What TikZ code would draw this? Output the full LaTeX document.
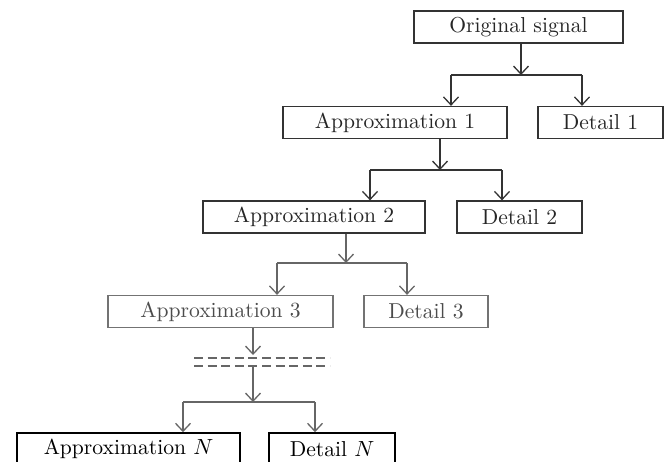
\documentclass[tikz,border=0pt]{standalone}
\usetikzlibrary{arrows.meta}
\begin{document}
\begin{tikzpicture}[x=0.5pt, y=-0.5pt,
  box/.style={draw=black!80, line width=0.65pt, minimum height=16pt, inner sep=0pt,
    text=black!85, font=\fontsize{10.8}{12}\selectfont},
  lightbox/.style={box, draw=black!55, text=black!70},
  darkbox/.style={box, draw=black, line width=0.8pt, text=black},
  link/.style={draw=black!80, line width=0.65pt},
  lightlink/.style={link, draw=black!60},
  arr/.style={-{Straight Barb[length=4pt,width=7.5pt]}}]
  \useasboundingbox (0,0) rectangle (667,461);

  % Boxes
  \node[box, minimum width=104.5pt] (orig) at (518.5,27) {Original signal};
  \node[box, minimum width=112pt] (a1) at (395,122.5) {Approximation 1};
  \node[box, minimum width=62.5pt] (d1) at (600.5,122.5) {Detail 1};
  \node[box, minimum width=111pt] (a2) at (314,217) {Approximation 2};
  \node[box, minimum width=62.5pt] (d2) at (519.5,217) {Detail 2};
  \node[lightbox, minimum width=112.5pt] (a3) at (220.5,311.5) {Approximation 3};
  \node[lightbox, minimum width=62pt] (d3) at (426,311.5) {Detail 3};
  \node[darkbox, minimum width=111.5pt] (an) at (128.5,449) {Approximation $N$};
  \node[darkbox, minimum width=63pt] (dn) at (332,449) {Detail $N$};

  % Level 1
  \coordinate (j1) at (521,75);
  \coordinate (j1l) at (451,75);
  \coordinate (j1r) at (582,75);
  \draw[link, arr] (orig.south -| j1) -- (j1);
  \draw[link] (j1l) -- (j1r);
  \draw[link, arr] (j1l) -- (j1l |- a1.north);
  \draw[link, arr] (j1r) -- (j1r |- d1.north);

  % Level 2
  \coordinate (j2) at (440,170);
  \coordinate (j2l) at (370,170);
  \coordinate (j2r) at (502,170);
  \draw[link, arr] (a1.south -| j2) -- (j2);
  \draw[link] (j2l) -- (j2r);
  \draw[link, arr] (j2l) -- (j2l |- a2.north);
  \draw[link, arr] (j2r) -- (j2r |- d2.north);

  % Level 3
  \coordinate (j3) at (346,263);
  \coordinate (j3l) at (277,263);
  \coordinate (j3r) at (407,263);
  \draw[lightlink, arr] (a2.south -| j3) -- (j3);
  \draw[lightlink] (j3l) -- (j3r);
  \draw[lightlink, arr] (j3l) -- (j3l |- a3.north);
  \draw[lightlink, arr] (j3r) -- (j3r |- d3.north);

  % Skipped levels
  \coordinate (gap) at (253,355);
  \draw[lightlink, arr] (a3.south -| gap) -- (gap);
  \draw[lightlink, line width=0.8pt, dash pattern=on 4.5pt off 2.3pt] (194,358) -- (330,358);
  \draw[lightlink, line width=0.8pt, dash pattern=on 4.5pt off 2.3pt] (194,366) -- (330,366);

  % Level N
  \coordinate (jn) at (253,402);
  \coordinate (jnl) at (183,402);
  \coordinate (jnr) at (315,402);
  \draw[lightlink, arr] (253,366) -- (jn);
  \draw[lightlink] (jnl) -- (jnr);
  \draw[lightlink, arr] (jnl) -- (jnl |- an.north);
  \draw[lightlink, arr] (jnr) -- (jnr |- dn.north);
\end{tikzpicture}
\end{document}
